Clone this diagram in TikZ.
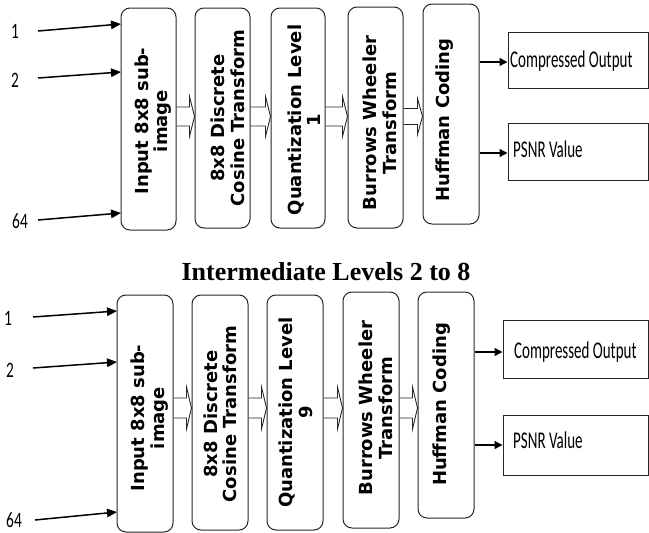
\documentclass[tikz,border=0pt]{standalone}
\usepackage{fontspec}
\setmainfont{Liberation Serif}
\newfontfamily\boxfont{DejaVu Sans}
\newfontfamily\calfont{Carlito}
\usetikzlibrary{arrows.meta,calc}
\tikzset{
 blk/.style={draw=black!85, line width=1pt, rounded corners=9pt, inner sep=0pt},
 obox/.style={draw=black!85, line width=1pt, inner sep=0pt},
 btxt/.style={rotate=90, align=center, font=\boxfont\bfseries\fontsize{18}{19.5}\selectfont, inner sep=0pt},
 ctxt/.style={font=\calfont\fontsize{24}{24}\selectfont, inner sep=0pt, anchor=base west},
 ntxt/.style={font=\calfont\fontsize{22}{22}\selectfont, inner sep=0pt, anchor=base west},
 inarr/.style={line width=1.5pt, -{Triangle[length=10pt,width=8.5pt]}},
 outarr/.style={line width=1.3pt, -{Triangle[length=8pt,width=8pt]}},
 hollow/.style={draw=black!85, line width=0.9pt},
}
\newcommand{\hollowarr}[5]{% from, to, y, shaft half, head half
 \coordinate (hy) at (0,#3);
 \coordinate (ha) at (#1.east |- hy);
 \coordinate (hb) at (#2.west |- hy);
 \draw[hollow] ($(ha)+(0,-#4)$) -- ($(hb)+(-5,-#4)$) -- ($(hb)+(-5,-#5)$) -- (hb) -- ($(hb)+(-5,#5)$) -- ($(hb)+(-5,#4)$) -- ($(ha)+(0,#4)$);
}
\newcommand{\sidearr}[4]{% style, from node, to node, y
 \coordinate (sy) at (0,#4);
 \draw[#1] (#2.east |- sy) -- (#3.west |- sy);
}
\newcommand{\sq}[1]{\scalebox{0.625}[1]{#1}}
\newcommand{\sqn}[1]{\scalebox{0.7}[1]{#1}}
\begin{document}
\begin{tikzpicture}[x=1pt,y=-1pt]
\useasboundingbox (0,0) rectangle (649,533);
% ===== top panel =====
\node[blk, minimum width=55pt, minimum height=222pt] (b1) at (148.5,119) {};
\node[blk, minimum width=55pt, minimum height=220pt] (b2) at (222.5,118) {};
\node[blk, minimum width=54pt, minimum height=220pt] (b3) at (298,118) {};
\node[blk, minimum width=55pt, minimum height=221pt] (b4) at (375.5,117.5) {};
\node[blk, minimum width=56pt, minimum height=220pt] (b5) at (451,114) {};
\node[obox, minimum width=140pt, minimum height=56pt] (o1) at (578,60) {};
\node[obox, minimum width=140pt, minimum height=57pt] (o2) at (578,151.5) {};

\node[btxt] (t1) at (153,121) {Input 8x8 sub-\\image};
\node[btxt] (t2) at (228,118) {8x8 Discrete\\Cosine Transform};
\node[btxt] (t3) at (304,120) {Quantization Level\\1};
\node[btxt] (t4) at (380,123) {Burrows Wheeler\\Transform};
\node[btxt] (t5) at (445,120) {Huffman Coding};
\node[ctxt] (ot1) at (510,67) {\sq{Compressed Output}};
\node[ctxt] (ot2) at (513,157) {\sq{PSNR Value}};

\node[ntxt] (n1) at (11,38) {\sqn{1}};
\node[ntxt] (n2) at (11,87) {\sqn{2}};
\node[ntxt] (n64) at (12,228) {\sqn{64}};
\coordinate (s1) at (38,31);  \coordinate (e1) at (121,24);
\coordinate (s2) at (38,78);  \coordinate (e2) at (121,72);
\coordinate (s3) at (38,220); \coordinate (e3) at (121,213);
\draw[inarr] (s1) -- (e1);
\draw[inarr] (s2) -- (e2);
\draw[inarr] (s3) -- (e3);

\hollowarr{b1}{b2}{116.5}{9.5}{20}
\hollowarr{b2}{b3}{116.5}{9.5}{20}
\hollowarr{b3}{b4}{116.5}{9.5}{20}
\hollowarr{b4}{b5}{116.5}{8}{18}

\sidearr{outarr}{b5}{o1}{62}
\sidearr{outarr}{b5}{o2}{153}

% title
\node[font=\bfseries\fontsize{26}{26}\selectfont, inner sep=0pt, anchor=base] (title) at (326,280) {Intermediate Levels 2 to 8};

% ===== bottom panel =====
\node[blk, minimum width=56pt, minimum height=237pt] (c1) at (145,413.5) {};
\node[blk, minimum width=56pt, minimum height=235pt] (c2) at (220,412.5) {};
\node[blk, minimum width=56pt, minimum height=235pt] (c3) at (295,412.5) {};
\node[blk, minimum width=56pt, minimum height=236pt] (c4) at (371,410) {};
\node[blk, minimum width=56pt, minimum height=226pt] (c5) at (446,405) {};
\node[obox, minimum width=145pt, minimum height=58pt] (p1) at (575.5,349) {};
\node[obox, minimum width=145pt, minimum height=60pt] (p2) at (575.5,445) {};

\node[btxt] (u1) at (149.5,418) {Input 8x8 sub-\\image};
\node[btxt] (u2) at (220.5,414) {8x8 Discrete\\Cosine Transform};
\node[btxt] (u3) at (296,412.5) {Quantization Level\\9};
\node[btxt] (u4) at (376,408) {Burrows Wheeler\\Transform};
\node[btxt] (u5) at (441.5,404.5) {Huffman Coding};
\node[ctxt] (pt1) at (514,358) {\sq{Compressed Output}};
\node[ctxt] (pt2) at (513,448) {\sq{PSNR Value}};

\node[ntxt] (m1) at (4,325) {\sqn{1}};
\node[ntxt] (m2) at (6,377) {\sqn{2}};
\node[ntxt] (m64) at (6,527) {\sqn{64}};
\coordinate (r1) at (33,317);  \coordinate (f1) at (117,311);
\coordinate (r2) at (33,368);  \coordinate (f2) at (117,362);
\coordinate (r3) at (35,520);  \coordinate (f3) at (117,512);
\draw[inarr] (r1) -- (f1);
\draw[inarr] (r2) -- (f2);
\draw[inarr] (r3) -- (f3);

\hollowarr{c1}{c2}{408}{10}{21}
\hollowarr{c2}{c3}{408}{10}{21}
\hollowarr{c3}{c4}{408}{10}{21}
\hollowarr{c4}{c5}{408}{10}{21}

\sidearr{outarr}{c5}{p1}{352}
\sidearr{outarr}{c5}{p2}{445}
\end{tikzpicture}
\end{document}
